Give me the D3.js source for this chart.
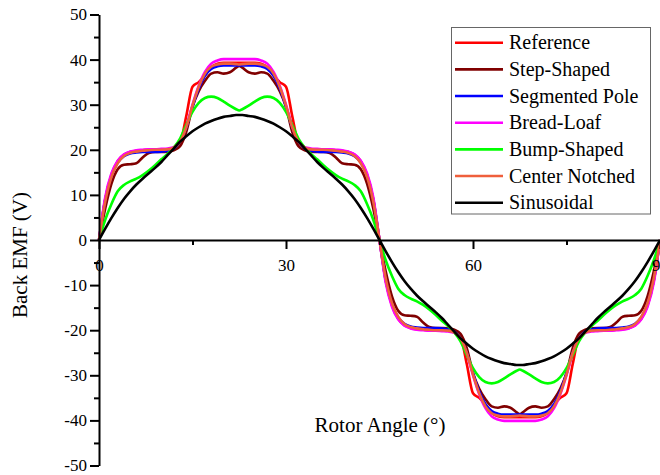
<!DOCTYPE html>
<html>
<head>
<meta charset="utf-8">
<script src="https://cdn.jsdelivr.net/npm/d3@7"></script>
<style>
  html, body { margin: 0; padding: 0; background: #fff; }
  svg { display: block; font-family: "Liberation Serif", "Times New Roman", serif; }
</style>
</head>
<body>
<svg id="chart" width="660" height="475"></svg>
<script>
// Rotor angle samples (degrees)
const angles = [0,1,2,3,4,5,6,7,8,9,10,11,12,13,14,15,16,17,18,19,20,21,22,22.5,
  23,24,25,26,27,28,29,30,31,32,33,34,35,36,37,38,39,40,41,42,43,44,45,
  46,47,48,49,50,51,52,53,54,55,56,57,58,59,60,61,62,63,64,65,66,67,67.5,
  68,69,70,71,72,73,74,75,76,77,78,79,80,81,82,83,84,85,86,87,88,89,90];

// Back EMF (V) for each magnet shape
const reference = [0,9.0,14.5,17.5,18.9,19.5,19.8,19.9,20.0,20.0,20.1,20.1,20.5,21.5,27.5,34.0,35.0,36.5,38.3,39.1,39.3,39.3,39.3,39.3,
  39.3,39.3,39.3,39.1,38.3,36.5,35.0,34.0,27.5,21.5,20.5,20.1,20.1,20.0,20.0,19.9,19.8,19.5,18.9,17.5,14.5,9.0,0,
  -9.0,-14.5,-17.5,-18.9,-19.5,-19.8,-19.9,-20.0,-20.0,-20.1,-20.1,-20.5,-21.5,-27.5,-34.0,-35.0,-36.5,-38.3,-39.1,-39.3,-39.3,-39.3,-39.3,
  -39.3,-39.3,-39.3,-39.1,-38.3,-36.5,-35.0,-34.0,-27.5,-21.5,-20.5,-20.1,-20.1,-20.0,-20.0,-19.9,-19.8,-19.5,-18.9,-17.5,-14.5,-9.0,0];

const stepShaped = [0,7.0,12.5,15.7,16.7,16.8,17.0,18.3,19.3,19.5,19.5,19.6,19.9,20.8,24.0,29.5,33.0,35.3,36.9,37.2,36.9,37.2,38.2,38.6,
  38.2,37.2,36.9,37.2,36.9,35.3,33.0,29.5,24.0,20.8,19.9,19.6,19.5,19.5,19.3,18.3,17.0,16.8,16.7,15.7,12.5,7.0,0,
  -7.0,-12.5,-15.7,-16.7,-16.8,-17.0,-18.3,-19.3,-19.5,-19.5,-19.6,-19.9,-20.8,-24.0,-29.5,-33.0,-35.3,-36.9,-37.2,-36.9,-37.2,-38.2,-38.6,
  -38.2,-37.2,-36.9,-37.2,-36.9,-35.3,-33.0,-29.5,-24.0,-20.8,-19.9,-19.6,-19.5,-19.5,-19.3,-18.3,-17.0,-16.8,-16.7,-15.7,-12.5,-7.0,0];

const segmentedPole = [0,9.0,14.3,17.2,18.6,19.2,19.4,19.5,19.5,19.5,19.6,19.8,20.3,21.8,25.0,29.6,33.6,36.4,37.9,38.5,38.7,38.7,38.7,38.7,
  38.7,38.7,38.7,38.5,37.9,36.4,33.6,29.6,25.0,21.8,20.3,19.8,19.6,19.5,19.5,19.5,19.4,19.2,18.6,17.2,14.3,9.0,0,
  -9.0,-14.3,-17.2,-18.6,-19.2,-19.4,-19.5,-19.5,-19.5,-19.6,-19.8,-20.3,-21.8,-25.0,-29.6,-33.6,-36.4,-37.9,-38.5,-38.7,-38.7,-38.7,-38.7,
  -38.7,-38.7,-38.7,-38.5,-37.9,-36.4,-33.6,-29.6,-25.0,-21.8,-20.3,-19.8,-19.6,-19.5,-19.5,-19.5,-19.4,-19.2,-18.6,-17.2,-14.3,-9.0,0];

const breadLoaf = [0,9.5,14.8,17.6,19.0,19.6,19.9,20.0,20.1,20.1,20.2,20.3,20.6,22.0,25.2,30.0,34.2,37.3,39.1,39.8,40.1,40.1,40.1,40.1,
  40.1,40.1,40.1,39.8,39.1,37.3,34.2,30.0,25.2,22.0,20.6,20.3,20.2,20.1,20.1,20.0,19.9,19.6,19.0,17.6,14.8,9.5,0,
  -9.5,-14.8,-17.6,-19.0,-19.6,-19.9,-20.0,-20.1,-20.1,-20.2,-20.3,-20.6,-22.0,-25.2,-30.0,-34.2,-37.3,-39.1,-39.8,-40.1,-40.1,-40.1,-40.1,
  -40.1,-40.1,-40.1,-39.8,-39.1,-37.3,-34.2,-30.0,-25.2,-22.0,-20.6,-20.3,-20.2,-20.1,-20.1,-20.0,-19.9,-19.6,-19.0,-17.6,-14.8,-9.5,0];

const bumpShaped = [0,4.5,8.0,10.8,12.2,13.0,13.6,14.4,15.4,16.6,17.9,19.1,20.5,22.5,25.5,28.4,30.4,31.5,31.8,31.5,30.7,29.8,29.0,28.7,
  29.0,29.8,30.7,31.5,31.8,31.5,30.4,28.4,25.5,22.5,20.5,19.1,17.9,16.6,15.4,14.4,13.6,13.0,12.2,10.8,8.0,4.5,0,
  -4.5,-8.0,-10.8,-12.2,-13.0,-13.6,-14.4,-15.4,-16.6,-17.9,-19.1,-20.5,-22.5,-25.5,-28.4,-30.4,-31.5,-31.8,-31.5,-30.7,-29.8,-29.0,-28.7,
  -29.0,-29.8,-30.7,-31.5,-31.8,-31.5,-30.4,-28.4,-25.5,-22.5,-20.5,-19.1,-17.9,-16.6,-15.4,-14.4,-13.6,-13.0,-12.2,-10.8,-8.0,-4.5,0];

const centerNotched = [0,8.5,14.0,17.0,18.6,19.3,19.6,19.8,19.9,20.0,20.0,20.1,20.5,21.8,25.0,29.8,34.0,36.9,38.4,38.9,39.1,39.1,39.0,38.9,
  39.0,39.1,39.1,38.9,38.4,36.9,34.0,29.8,25.0,21.8,20.5,20.1,20.0,20.0,19.9,19.8,19.6,19.3,18.6,17.0,14.0,8.5,0,
  -8.5,-14.0,-17.0,-18.6,-19.3,-19.6,-19.8,-19.9,-20.0,-20.0,-20.1,-20.5,-21.8,-25.0,-29.8,-34.0,-36.9,-38.4,-38.9,-39.1,-39.1,-39.0,-38.9,
  -39.0,-39.1,-39.1,-38.9,-38.4,-36.9,-34.0,-29.8,-25.0,-21.8,-20.5,-20.1,-20.0,-20.0,-19.9,-19.8,-19.6,-19.3,-18.6,-17.0,-14.0,-8.5,0];

const sinusoidal = [0,2.5,4.9,7.1,9.1,10.8,12.3,13.6,14.8,16.0,17.3,18.8,20.3,21.8,23.0,24.1,25.0,25.8,26.4,26.9,27.3,27.5,27.7,27.7,
  27.7,27.5,27.3,26.9,26.4,25.8,25.0,24.1,23.0,21.8,20.3,18.8,17.3,16.0,14.8,13.6,12.3,10.8,9.1,7.1,4.9,2.5,0,
  -2.5,-4.9,-7.1,-9.1,-10.8,-12.3,-13.6,-14.8,-16.0,-17.3,-18.8,-20.3,-21.8,-23.0,-24.1,-25.0,-25.8,-26.4,-26.9,-27.3,-27.5,-27.7,-27.7,
  -27.7,-27.5,-27.3,-26.9,-26.4,-25.8,-25.0,-24.1,-23.0,-21.8,-20.3,-18.8,-17.3,-16.0,-14.8,-13.6,-12.3,-10.8,-9.1,-7.1,-4.9,-2.5,0];

const seriesNames = ["Reference", "Step-Shaped", "Segmented Pole", "Bread-Loaf", "Bump-Shaped", "Center Notched", "Sinusoidal"];
const seriesValues = [reference, stepShaped, segmentedPole, breadLoaf, bumpShaped, centerNotched, sinusoidal];
const seriesColors = ["#ff0000", "#800000", "#0000ff", "#ff00ff", "#00ff00", "#ef5f3c", "#000000"];

const xMajorTicks = [0, 30, 60, 90];
const xMinorTicks = [15, 45, 75];
const yMajorTicks = [-50, -40, -30, -20, -10, 0, 10, 20, 30, 40, 50];
const yMinorTicks = [-45, -35, -25, -15, -5, 5, 15, 25, 35, 45];

const svg = d3.select("#chart");

const x = d3.scaleLinear().domain([0, 90]).range([99, 660]);
const y = d3.scaleLinear().domain([-50, 50]).range([465.5, 14.5]);

// Plain hyphen for negative tick labels
const plainNumber = d => String(d);

// Curves
const line = d3.line()
  .x((d, i) => x(angles[i]))
  .y(d => y(d))
  .curve(d3.curveMonotoneX);

const curves = svg.append("g");
seriesValues.forEach((vals, k) => {
  curves.append("path")
    .datum(vals)
    .attr("d", line)
    .attr("fill", "none")
    .attr("stroke", seriesColors[k])
    .attr("stroke-width", 2.6)
    .attr("stroke-linejoin", "round");
});

// Y axis (left edge)
svg.append("g").attr("transform", `translate(${x(0)},0)`)
  .call(d3.axisLeft(y).tickValues(yMajorTicks).tickFormat(plainNumber)
    .tickSize(9).tickSizeOuter(0).tickPadding(3));
svg.append("g").attr("transform", `translate(${x(0)},0)`)
  .call(d3.axisLeft(y).tickValues(yMinorTicks).tickSize(5).tickSizeOuter(0).tickFormat(""))
  .select(".domain").remove();

// X axis along V = 0
svg.append("g").attr("transform", `translate(0,${y(0)})`)
  .call(d3.axisBottom(x).tickValues(xMajorTicks).tickFormat(plainNumber)
    .tickSize(9).tickSizeOuter(0).tickPadding(10));
svg.append("g").attr("transform", `translate(0,${y(0)})`)
  .call(d3.axisBottom(x).tickValues(xMinorTicks).tickSize(5).tickSizeOuter(0).tickFormat(""))
  .select(".domain").remove();

svg.selectAll(".domain, .tick line").attr("stroke", "#000").attr("stroke-width", 2);
svg.selectAll(".tick text")
  .attr("fill", "#000")
  .style("font-family", '"Liberation Serif", "Times New Roman", serif')
  .style("font-size", "17px");

// Axis titles
svg.append("text")
  .attr("transform", `translate(27,255) rotate(-90)`)
  .attr("text-anchor", "middle")
  .style("font-size", "21px")
  .text("Back EMF (V)");

svg.append("text")
  .attr("x", 380)
  .attr("y", 432)
  .attr("text-anchor", "middle")
  .style("font-size", "21px")
  .text("Rotor Angle (°)");

// Legend
const legend = svg.append("g");
legend.append("rect")
  .attr("x", 451.5).attr("y", 27.5)
  .attr("width", 199).attr("height", 186.5)
  .attr("fill", "#fff")
  .attr("stroke", "#666")
  .attr("stroke-width", 1);

seriesNames.forEach((name, k) => {
  const cy = 42.7 + k * 26.67;
  legend.append("line")
    .attr("x1", 455).attr("x2", 503)
    .attr("y1", cy).attr("y2", cy)
    .attr("stroke", seriesColors[k])
    .attr("stroke-width", 2.6);
  legend.append("text")
    .attr("x", 509)
    .attr("y", cy)
    .attr("dy", "0.33em")
    .style("font-size", "20px")
    .text(name);
});
</script>
</body>
</html>
